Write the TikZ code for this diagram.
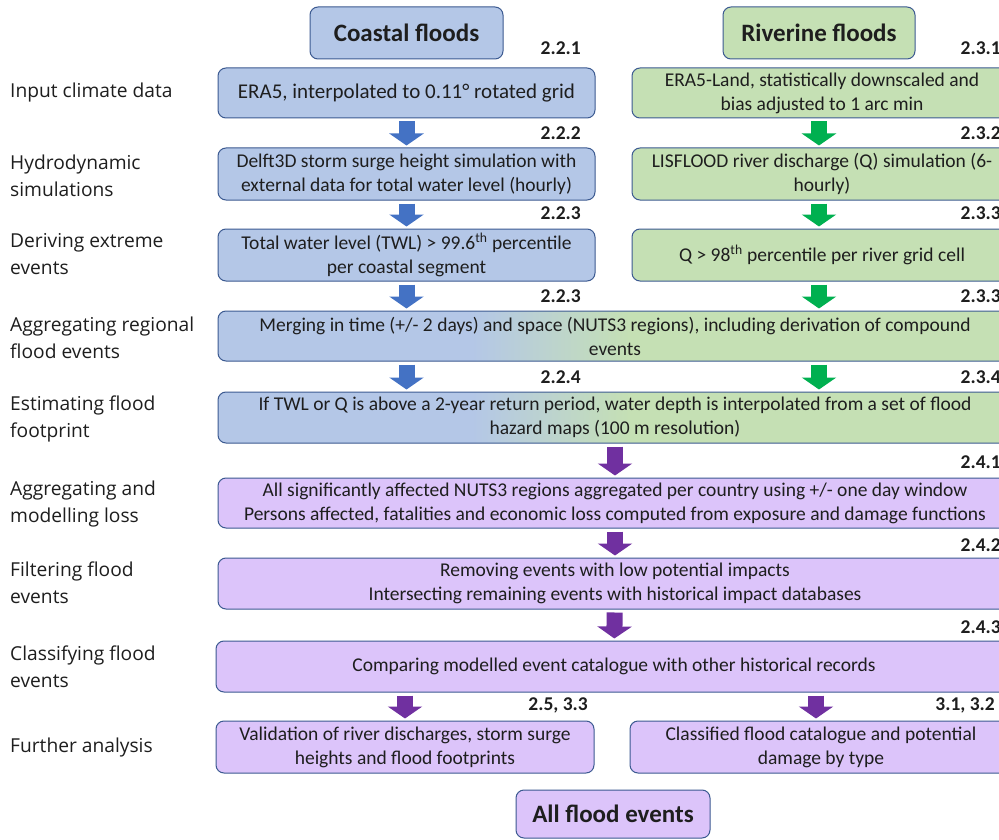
\documentclass[tikz,border=0pt]{standalone}
\usepackage{fontspec}
\setmainfont{Carlito}
\newfontfamily\labfont{Open Sans}
\usetikzlibrary{arrows.meta,calc}
\definecolor{cblue}{RGB}{180,199,231}
\definecolor{cgreen}{RGB}{197,224,180}
\definecolor{cpurple}{RGB}{220,196,250}
\definecolor{cborder}{RGB}{60,90,145}
\definecolor{ablue}{RGB}{68,114,196}
\definecolor{agreen}{RGB}{0,176,80}
\definecolor{apurple}{RGB}{112,48,160}
\definecolor{ctext}{RGB}{30,30,30}
\pgfdeclarehorizontalshading{cbshade}{100bp}{color(0bp)=(cblue); color(41bp)=(cblue); color(51bp)=(cgreen); color(100bp)=(cgreen)}
\tikzset{
  box/.style={draw=cborder, line width=1pt, rounded corners=8pt, align=center, inner sep=0pt,
    font=\fontsize{19.5}{24}\selectfont, text=ctext},
  bluebox/.style={box, fill=cblue},
  greenbox/.style={box, fill=cgreen},
  purplebox/.style={box, fill=cpurple},
  mixbox/.style={box, shade, shading=cbshade},
  header/.style={font=\fontsize{25}{29}\selectfont\bfseries},
  secnum/.style={font=\fontsize{19.5}{22}\selectfont\bfseries, text=ctext, inner sep=0pt},
  rowlab/.style={anchor=west, align=left, inner sep=0pt, text=ctext,
    font=\labfont\fontsize{19.2}{27}\selectfont},
  blockarrow/.style={line width=16pt, draw=#1, shorten <=3pt, shorten >=2pt,
    -{Triangle[width=34pt,length=12pt]}},
}
\begin{document}
\begin{tikzpicture}[x=1pt,y=-1pt]
\useasboundingbox (0,0) rectangle (999,840);
\clip (0,0) rectangle (999,840);
\fill[white] (0,0) rectangle (999,840);

% headers
\node[bluebox, header, minimum width=193pt, minimum height=52pt] (hc) at (406.5,33) {Coastal floods};
\node[greenbox, header, minimum width=192pt, minimum height=52pt] (hr) at (819,33) {Riverine floods};

% rows
\node[bluebox, minimum width=377pt, minimum height=50pt, font=\fontsize{21}{24}\selectfont] (r1l) at (406.5,93) {ERA5, interpolated to 0.11° rotated grid};
\node[greenbox, minimum width=380pt, minimum height=50pt] (r1r) at (822,93) {ERA5-Land, statistically downscaled and\\bias adjusted to 1 arc min};

\node[bluebox, minimum width=377pt, minimum height=52pt] (r2l) at (406.5,174) {Delft3D storm surge height simulation with\\external data for total water level (hourly)};
\node[greenbox, minimum width=380pt, minimum height=52pt] (r2r) at (822,174) {LISFLOOD river discharge (Q) simulation (6-\\hourly)};

\node[bluebox, minimum width=377pt, minimum height=52pt] (r3l) at (406.5,255) {Total water level (TWL) > 99.6\textsuperscript{th} percentile\\per coastal segment};
\node[greenbox, minimum width=380pt, minimum height=52pt] (r3r) at (822,255) {Q > 98\textsuperscript{th} percentile per river grid cell};

\node[mixbox, minimum width=794pt, minimum height=50pt] (r4) at (615,336) {Merging in time (+/- 2 days) and space (NUTS3 regions), including derivation of compound\\events};
\node[mixbox, minimum width=794pt, minimum height=51pt] (r5) at (615,417.5) {If TWL or Q is above a 2-year return period, water depth is interpolated from a set of flood\\hazard maps (100 m resolution)};

\node[purplebox, minimum width=794pt, minimum height=50pt] (r6) at (615,503) {All significantly affected NUTS3 regions aggregated per country using +/- one day window\\Persons affected, fatalities and economic loss computed from exposure and damage functions};
\node[purplebox, minimum width=794pt, minimum height=51pt] (r7) at (615,583.5) {Removing events with low potential impacts\\Intersecting remaining events with historical impact databases};
\node[purplebox, minimum width=796pt, minimum height=51pt] (r8) at (614,666.5) {Comparing modelled event catalogue with other historical records};

\node[purplebox, minimum width=378pt, minimum height=52pt] (r9l) at (405,747) {Validation of river discharges, storm surge\\heights and flood footprints};
\node[purplebox, minimum width=382pt, minimum height=52pt] (r9r) at (821,747) {Classified flood catalogue and potential\\damage by type};

\node[purplebox, header, minimum width=194pt, minimum height=48pt] (fin) at (613,814) {All flood events};

% arrows
\draw[blockarrow=ablue] (r1l) -- (r2l);
\draw[blockarrow=ablue] (r2l) -- (r3l);
\draw[blockarrow=ablue] (r3l) -- (r3l.south |- r4.north);
\draw[blockarrow=ablue] (r3l.south |- r4.south) -- (r3l.south |- r5.north);
\draw[blockarrow=agreen] (r1r.south -| hr.south) -- (r2r.north -| hr.south);
\draw[blockarrow=agreen] (r2r.south -| hr.south) -- (r3r.north -| hr.south);
\draw[blockarrow=agreen] (r3r.south -| hr.south) -- (r4.north -| hr.south);
\draw[blockarrow=agreen] (r4.south -| hr.south) -- (r5.north -| hr.south);
\draw[blockarrow=apurple] (r5) -- (r6);
\draw[blockarrow=apurple] (r6) -- (r7);
\draw[blockarrow=apurple] (r7) -- (r8);
\draw[blockarrow=apurple] (r8.south -| r9l.north) -- (r9l);
\draw[blockarrow=apurple] (r8.south -| fin.north) ++(203,0) coordinate (a9r) -- (a9r |- r9r.north);

% section numbers
\node[secnum, anchor=east] (s1) at (581,48) {2.2.1};
\node[secnum, anchor=east] (s2) at (581,133) {2.2.2};
\node[secnum, anchor=east] (s3) at (581,213) {2.2.3};
\node[secnum, anchor=east] (s4) at (581,296) {2.2.3};
\node[secnum, anchor=east] (s5) at (581,377) {2.2.4};
\node[secnum, anchor=east] (t1) at (1001,48) {2.3.1};
\node[secnum, anchor=east] (t2) at (1001,133) {2.3.2};
\node[secnum, anchor=east] (t3) at (1001,213) {2.3.3};
\node[secnum, anchor=east] (t4) at (1001,296) {2.3.3};
\node[secnum, anchor=east] (t5) at (1001,377) {2.3.4};
\node[secnum, anchor=east] (u1) at (1001,462) {2.4.1};
\node[secnum, anchor=east] (u2) at (1001,545) {2.4.2};
\node[secnum, anchor=east] (u3) at (1001,627) {2.4.3};
\node[secnum, anchor=east] (v1) at (588,705) {2.5, 3.3};
\node[secnum, anchor=east] (v2) at (995,705) {3.1, 3.2};

% row labels
\node[rowlab] (l1) at (10,93) {Input climate data};
\node[rowlab] (l2) at (10,176) {Hydrodynamic\\simulations};
\node[rowlab] (l3) at (10,254) {Deriving extreme\\events};
\node[rowlab] (l4) at (10,338) {Aggregating regional\\flood events};
\node[rowlab] (l5) at (10,419) {Estimating flood\\footprint};
\node[rowlab] (l6) at (10,504) {Aggregating and\\modelling loss};
\node[rowlab] (l7) at (10,583) {Filtering flood\\events};
\node[rowlab] (l8) at (10,667) {Classifying flood\\events};
\node[rowlab] (l9) at (10,748) {Further analysis};
\end{tikzpicture}
\end{document}
